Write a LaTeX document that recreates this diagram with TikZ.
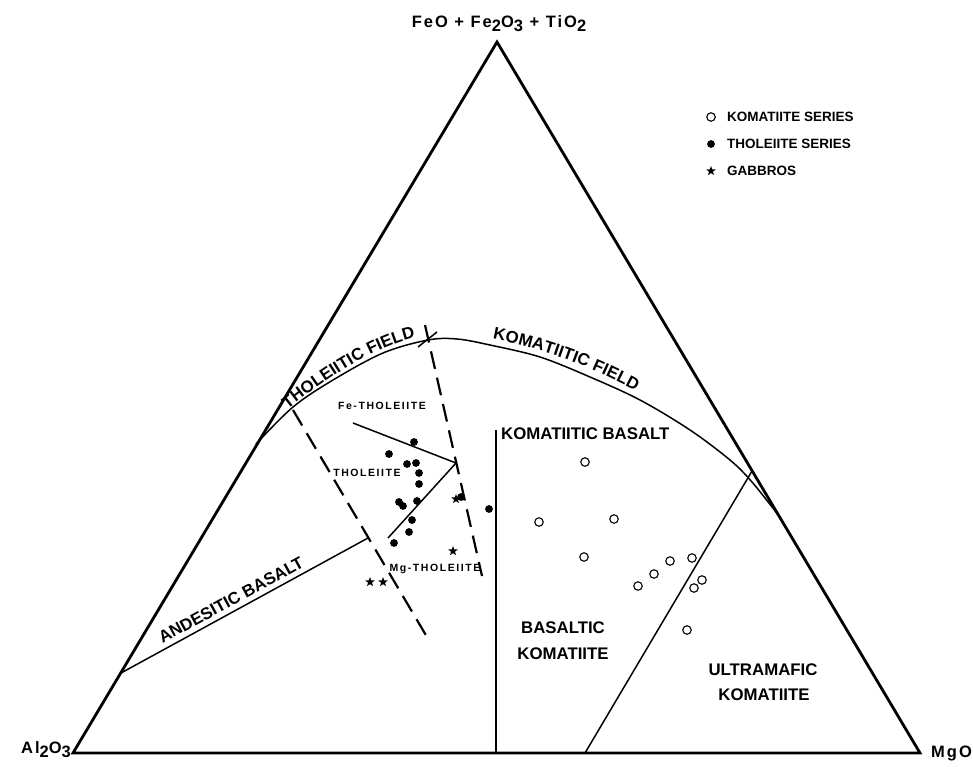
\documentclass[tikz,border=0pt]{standalone}
\usepackage{fontspec}
\setmainfont{Liberation Sans}
\usetikzlibrary{shapes.geometric,decorations.text}
\newcommand{\lowsub}[1]{\raisebox{-0.5ex}{#1}}
\begin{document}
\begin{tikzpicture}[x=1pt,y=-1pt,
  edge/.style={line width=2.8pt, line join=miter},
  bound/.style={line width=1.5pt},
  dashline/.style={line width=2.2pt, dash pattern=on 18pt off 9pt},
  cornlab/.style={font=\fontsize{16.5}{17}\selectfont\bfseries\addfontfeature{LetterSpace=12}, inner sep=0},
  biglab/.style={font=\fontsize{16.8}{17}\selectfont\bfseries, inner sep=0},
  smalllab/.style={font=\fontsize{10.5}{11}\selectfont\bfseries\addfontfeature{LetterSpace=15}, inner sep=0},
  legtxt/.style={font=\fontsize{13.5}{14}\selectfont\bfseries, inner sep=0, anchor=west},
  opendot/.style={circle, draw, line width=1.1pt, minimum size=8.5pt, inner sep=0},
  fulldot/.style={circle, fill, minimum size=7.8pt, inner sep=0},
  gstar/.style={star, star points=5, star point ratio=2.4, fill, minimum size=10pt, inner sep=0},
]
\useasboundingbox (0,0) rectangle (973,766);

% triangle
\coordinate (A) at (73,753);
\coordinate (B) at (920,753);
\coordinate (C) at (497,42);
\draw[edge] (A) -- (B) -- (C) -- cycle;

% corner labels
\node[cornlab, anchor=base] (top) at (499,27) {FeO + Fe\lowsub{2}O\lowsub{3} + TiO\lowsub{2}};
\node[cornlab, anchor=base east] (al) at (71,753) {Al\lowsub{2}O\lowsub{3}};
\node[cornlab, anchor=base west] (mg) at (931,757) {MgO};

% field boundary curve
\draw[bound] plot[smooth, tension=0.55] coordinates {(256,444) (293,407) (333,380) (383,353) (428,340) (457,339) (490,345) (540,357) (590,377) (640,400) (690,430) (730,460) (752,482) (779,516)};

% komatiitic basalt line
\coordinate (kb1) at (496,430);
\coordinate (kb2) at (496,753);
\draw[bound] (kb1) -- (kb2);

% ultramafic komatiite line
\coordinate (uk1) at (585,753);
\coordinate (uk2) at (752,471);
\draw[bound] (uk1) -- (uk2);

% andesitic basalt line
\coordinate (ab1) at (121,673);
\coordinate (ab2) at (368,538);
\draw[bound] (ab1) -- (ab2);

% left dashed line
\coordinate (ld1) at (293,410);
\coordinate (ld2) at (427,637);
\draw[dashline] (ld1) -- (ld2);

% right dashed line with cross mark
\coordinate (rd1) at (425,325);
\coordinate (rd2) at (482,576);
\draw[dashline] (rd1) -- (rd2);
\coordinate (x1) at (418,347);
\coordinate (x2) at (437,332);
\draw[bound] (x1) -- (x2);

% tholeiite subdivision lines
\coordinate (t1) at (353,423);
\coordinate (t2) at (456,463);
\coordinate (t3) at (388,538);
\draw[bound] (t1) -- (t2) -- (t3);

% field labels following the curve
\coordinate (tp1) at (262,435);
\coordinate (tp2) at (430,338);
\path[decorate, decoration={text along path, raise=3.5pt, text align={left, left indent=36pt},
      text={|\fontsize{16.8}{17}\selectfont\bfseries|THOLEIITIC FIELD}}]
  (tp1) .. controls (320,385) and (380,345) .. (tp2);
\coordinate (kp1) at (450,338);
\coordinate (kp2) at (690,430);
\path[decorate, decoration={text along path, raise=5pt, text align={left, left indent=42pt},
      text={|\fontsize{16.8}{17}\selectfont\bfseries|KOMATIITIC FIELD}}]
  (kp1) .. controls (530,345) and (610,375) .. (kp2);

\node[biglab, anchor=base west] (kbl) at (501,439) {KOMATIITIC BASALT};
\node[biglab, rotate=28.5] (abl) at (231,600) {ANDESITIC BASALT};
\node[biglab] (bk1) at (563,628) {BASALTIC};
\node[biglab] (bk2) at (563,654) {KOMATIITE};
\node[biglab] (uk1l) at (763,670) {ULTRAMAFIC};
\node[biglab] (uk2l) at (764,695) {KOMATIITE};
\node[smalllab] (fet) at (382,406) {Fe-THOLEIITE};
\node[smalllab] (tho) at (367,473) {THOLEIITE};
\node[smalllab] (mgt) at (435,569) {Mg-THOLEIITE};

% legend
\node[opendot] (lg1) at (711,117) {};
\node[legtxt] (lt1) at (727,117) {KOMATIITE SERIES};
\node[fulldot] (lg2) at (711,144) {};
\node[legtxt] (lt2) at (727,144) {THOLEIITE SERIES};
\node[gstar] (lg3) at (711,171) {};
\node[legtxt] (lt3) at (727,171) {GABBROS};

% tholeiite series
\foreach \p [count=\i] in {(414,442),(389,454),(407,464),(416,463),(419,473),(419,484),(399,502),(403,506),(417,501),(412,520),(409,532),(394,543),(489,509),(461,497)}
  \node[fulldot] (d\i) at \p {};

% gabbros
\foreach \p [count=\i] in {(370,582),(383,582),(453,551),(456,499)}
  \node[gstar] (g\i) at \p {};

% komatiite series
\foreach \p [count=\i] in {(585,462),(539,522),(614,519),(584,557),(670,561),(692,558),(654,574),(638,586),(702,580),(694,588),(687,630)}
  \node[opendot] (k\i) at \p {};

\end{tikzpicture}
\end{document}
